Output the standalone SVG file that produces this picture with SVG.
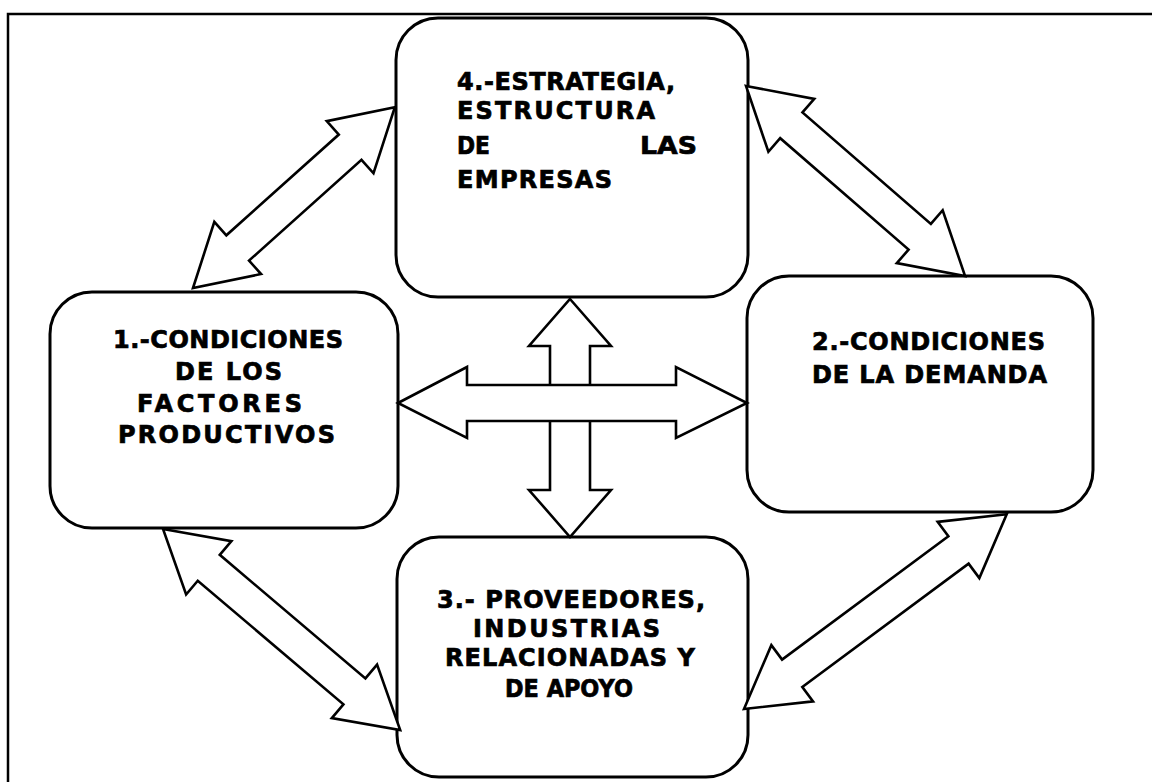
<svg xmlns="http://www.w3.org/2000/svg" width="1152" height="782" viewBox="0 0 1152 782">
<style>
.box{fill:#fff;stroke:#000;stroke-width:3}
.arr{fill:#fff;stroke:#000;stroke-width:2.6;stroke-linejoin:miter}
.t{font-family:"DejaVu Sans","Liberation Sans",Arial,sans-serif;font-weight:bold;font-size:24px;fill:#000;stroke:#000;stroke-width:0.7}
.frame{stroke:#000;stroke-width:2.5;fill:none}
</style>
<rect width="1152" height="782" fill="#fff"/>
<path class="frame" d="M8,782 V14 H1152"/>
<g id="node-4">
<rect class="box" x="396" y="18" width="352" height="279" rx="42" ry="42"/>
<text class="t" x="457" y="90" textLength="218" lengthAdjust="spacing">4.-ESTRATEGIA,</text>
<text class="t" x="457" y="119" textLength="198" lengthAdjust="spacing">ESTRUCTURA</text>
<text class="t" x="457" y="154" textLength="33" lengthAdjust="spacingAndGlyphs">DE</text>
<text class="t" x="640" y="154" textLength="57" lengthAdjust="spacingAndGlyphs">LAS</text>
<text class="t" x="457" y="188" textLength="155" lengthAdjust="spacing">EMPRESAS</text>
</g>
<g id="node-1">
<rect class="box" x="50" y="292" width="348" height="236" rx="42" ry="42"/>
<text class="t" x="113" y="348" textLength="230" lengthAdjust="spacing">1.-CONDICIONES</text>
<text class="t" x="175" y="380" textLength="107" lengthAdjust="spacing">DE LOS</text>
<text class="t" x="137" y="412" textLength="165" lengthAdjust="spacing">FACTORES</text>
<text class="t" x="118" y="443" textLength="217" lengthAdjust="spacing">PRODUCTIVOS</text>
</g>
<g id="node-2">
<rect class="box" x="747" y="276" width="346" height="236" rx="42" ry="42"/>
<text class="t" x="812" y="350" textLength="233" lengthAdjust="spacing">2.-CONDICIONES</text>
<text class="t" x="812" y="383" textLength="235" lengthAdjust="spacing">DE LA DEMANDA</text>
</g>
<g id="node-3">
<rect class="box" x="397" y="537" width="351" height="240" rx="42" ry="42"/>
<text class="t" x="437" y="608" textLength="268" lengthAdjust="spacing">3.- PROVEEDORES,</text>
<text class="t" x="473" y="637" textLength="187" lengthAdjust="spacing">INDUSTRIAS</text>
<text class="t" x="445" y="666" textLength="250" lengthAdjust="spacing">RELACIONADAS Y</text>
<text class="t" x="505" y="697" textLength="128" lengthAdjust="spacingAndGlyphs">DE APOYO</text>
</g>
<g id="connectors">
<polygon class="arr" points="570,299 611,346 590,346 590,490 611,490 570,537 529,490 550,490 550,346 529,346"/>
<polygon class="arr" points="398,403 467,367 467,385 676,385 676,367 747,403 676,438 676,421 467,421 467,438"/>
<polygon class="arr" transform="translate(193,288) rotate(-41.86)" points="0,0 60,-35 60,-17 211,-17 211,-35 271,0 211,35 211,17 60,17 60,35"/>
<polygon class="arr" transform="translate(746,86) rotate(40.94)" points="0,0 60,-35 60,-17 230,-17 230,-35 290,0 230,35 230,17 60,17 60,35"/>
<polygon class="arr" transform="translate(163,529) rotate(40.30)" points="0,0 60,-35 60,-17 251,-17 251,-35 311,0 251,35 251,17 60,17 60,35"/>
<polygon class="arr" transform="translate(744,709) rotate(-36.55)" points="0,0 60,-35 60,-17 267,-17 267,-35 327,0 267,35 267,17 60,17 60,35"/>
</g>
</svg>
